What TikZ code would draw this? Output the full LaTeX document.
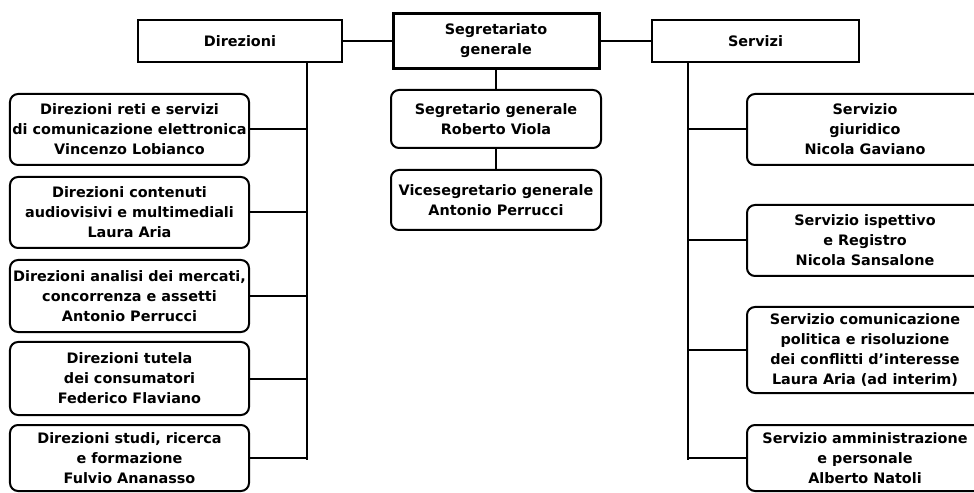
\documentclass[tikz,border=0pt]{standalone}
\usepackage{fontspec}
\setmainfont{DejaVu Sans}
\begin{document}
\begin{tikzpicture}[x=1bp,y=-1bp,
  every node/.style={font=\bfseries\fontsize{14.4bp}{20bp}\selectfont, align=center, inner sep=0pt},
  topbox/.style={draw, line width=2bp, minimum width=#1, minimum height=42bp},
  subbox/.style={draw, line width=2bp, rounded corners=8bp, minimum width=#1},
  conn/.style={line width=2bp}]
\clip (0,0) rectangle (974,493);
\fill[white] (0,0) rectangle (974,493);
% top row
\node[topbox=204bp] (dir) at (240,41) {Direzioni};
\node[topbox=206bp, minimum height=55bp, line width=3bp] (seg) at (496,41) {Segretariato\\generale};
\node[topbox=207bp] (serv) at (755.5,41) {Servizi};
% centre column
\node[subbox=210bp, minimum height=58bp] (s1) at (496,119) {Segretario generale\\Roberto Viola};
\node[subbox=210bp, minimum height=60bp] (s2) at (496,200) {Vicesegretario generale\\Antonio Perrucci};
% left column
\node[subbox=239bp, minimum height=71bp] (d1) at (129.5,129.5) {Direzioni reti e servizi\\di comunicazione elettronica\\Vincenzo Lobianco};
\node[subbox=239bp, minimum height=71bp] (d2) at (129.5,212.5) {Direzioni contenuti\\audiovisivi e multimediali\\Laura Aria};
\node[subbox=239bp, minimum height=72bp] (d3) at (129.5,296) {Direzioni analisi dei mercati,\\concorrenza e assetti\\Antonio Perrucci};
\node[subbox=239bp, minimum height=73bp] (d4) at (129.5,378.5) {Direzioni tutela\\dei consumatori\\Federico Flaviano};
\node[subbox=239bp, minimum height=66bp] (d5) at (129.5,458) {Direzioni studi, ricerca\\e formazione\\Fulvio Ananasso};
% right column
\node[subbox=236bp, minimum height=71bp] (r1) at (865,129.5) {Servizio\\giuridico\\Nicola Gaviano};
\node[subbox=236bp, minimum height=71bp] (r2) at (865,240.5) {Servizio ispettivo\\e Registro\\Nicola Sansalone};
\node[subbox=236bp, minimum height=86bp] (r3) at (865,350) {Servizio comunicazione\\politica e risoluzione\\dei conflitti d’interesse\\Laura Aria (ad interim)};
\node[subbox=236bp, minimum height=66bp] (r4) at (865,458) {Servizio amministrazione\\e personale\\Alberto Natoli};
% trunks
\coordinate (tL) at (307,460);
\coordinate (tR) at (688,460);
% connectors
\draw[conn] (dir.east) -- (seg.west);
\draw[conn] (seg.east) -- (serv.west);
\draw[conn] (seg.south) -- (s1.north);
\draw[conn] (s1.south) -- (s2.north);
\draw[conn] (dir.south -| tL) -- (tL);
\draw[conn] (serv.south -| tR) -- (tR);
\foreach \n in {d1,d2,d3,d4,d5} \draw[conn] (\n.east) -- (\n.east -| tL);
\foreach \n in {r1,r2,r3,r4} \draw[conn] (\n.west) -- (\n.west -| tR);
\end{tikzpicture}
\end{document}
